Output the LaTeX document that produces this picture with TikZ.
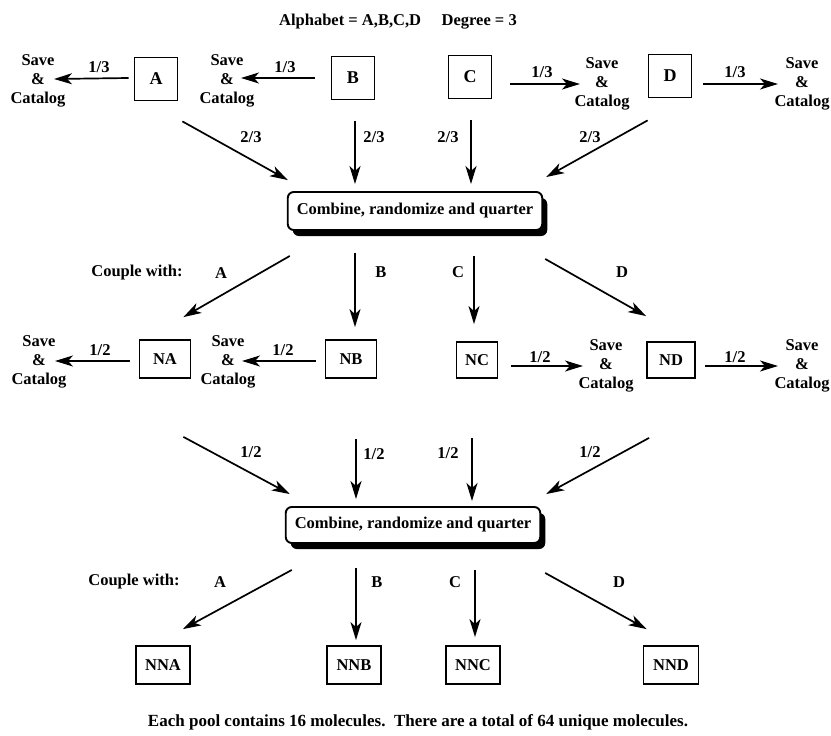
\documentclass[tikz,border=0pt]{standalone}
\usepackage{fontspec}
\setmainfont{Liberation Serif}
\usetikzlibrary{arrows.meta,shadows}
\tikzset{
  pool/.style  = {draw, line width=1.8pt, minimum width=43pt, minimum height=43pt, inner sep=1pt},
  mix/.style   = {draw, line width=1.9pt, fill=white, rounded corners=6pt, minimum height=38pt, inner xsep=9pt,
                  drop shadow={shadow xshift=5pt, shadow yshift=-6pt, fill=black, opacity=1}},
  save/.style  = {align=center, inner sep=0pt},
  lbl/.style   = {inner sep=0pt},
  arr/.style   = {-{Stealth[length=18pt,width=11pt,inset=5pt]}, line width=1.7pt},
}

\begin{document}
\begin{tikzpicture}[x=1pt, y=-1pt, font=\fontsize{16.5}{19}\selectfont\bfseries]
    \useasboundingbox (0,0) rectangle (831,736);

    \node [lbl] (title) at (398,22) {Alphabet = A,B,C,D\quad\ Degree = 3};

    % first round: the four monomers
    \node [pool, font=\fontsize{18}{19}\selectfont\bfseries] (A) at (156,79) {A};
    \node [pool, font=\fontsize{18}{19}\selectfont\bfseries] (B) at (353,78) {B};
    \node [pool, font=\fontsize{18}{19}\selectfont\bfseries] (C) at (470,77) {C};
    \node [pool, font=\fontsize{18}{19}\selectfont\bfseries] (D) at (670,76) {D};
    \node [save] (sv1) at (38,81)  {Save\\\&\\Catalog};
    \node [save] (sv2) at (227,81) {Save\\\&\\Catalog};
    \node [save] (sv3) at (602,84) {Save\\\&\\Catalog};
    \node [save] (sv4) at (802,84) {Save\\\&\\Catalog};

    \draw [arr] ([shift={(-5,-1)}]A.west) -- ([xshift=16pt]A.west -| sv1.center);
    \draw [arr] ([xshift=-16pt]B.west) -- ([xshift=14pt]B.west -| sv2.center);
    \draw [arr] ([shift={(18,7)}]C.east) -- ([shift={(-22,7)}]C.east -| sv3.center);
    \draw [arr] ([shift={(11,8)}]D.east) -- ([shift={(-24,8)}]D.east -| sv4.center);
    \node [lbl] (f1) at (99,67)  {1/3};
    \node [lbl] (f2) at (285,67) {1/3};
    \node [lbl] (f3) at (542,72) {1/3};
    \node [lbl] (f4) at (735,72) {1/3};

    \node [mix] (cmb1) at (415,211) {Combine, randomize and quarter};

    \draw [arr] ([shift={(4,20)}]A.south east) -- ([shift={(1,-11)}]cmb1.north west);
    \draw [arr] ([shift={(2,21)}]B.south) -- ([shift={(2,-7)}]B.south |- cmb1.north);
    \draw [arr] ([shift={(1,21)}]C.south) -- ([shift={(1,-7)}]C.south |- cmb1.north);
    \draw [arr] ([shift={(0,22)}]D.south west) -- ([shift={(3,-14)}]cmb1.north east);
    \node [lbl] (g1) at (251,137) {2/3};
    \node [lbl] (g2) at (374,137) {2/3};
    \node [lbl] (g3) at (448,137) {2/3};
    \node [lbl] (g4) at (590,137) {2/3};

    % second round: dimers
    \node [pool, minimum width=51pt, minimum height=38pt] (NA) at (165,359) {NA};
    \node [pool, minimum width=51pt, minimum height=38pt] (NB) at (351,359) {NB};
    \node [pool, minimum width=41pt, minimum height=36pt] (NC) at (477,360) {NC};
    \node [pool, minimum width=48pt, minimum height=36pt] (ND) at (671,360) {ND};
    \node [save] (sw1) at (39,362)  {Save\\\&\\Catalog};
    \node [save] (sw2) at (228,362) {Save\\\&\\Catalog};
    \node [save] (sw3) at (606,366) {Save\\\&\\Catalog};
    \node [save] (sw4) at (802,366) {Save\\\&\\Catalog};

    \node [lbl] (cw1) at (137,273) {Couple with:};
    \node [lbl] (ca1) at (221,273) {A};
    \node [lbl] (cb1) at (381,272) {B};
    \node [lbl] (cc1) at (458,272) {C};
    \node [lbl] (cd1) at (622,272) {D};
    \draw [arr] ([shift={(3,25)}]cmb1.south west) -- ([shift={(-8,-22)}]NA.north east);
    \draw [arr] ([shift={(4,22)}]NB.north |- cmb1.south) -- ([shift={(4,-12)}]NB.north);
    \draw [arr] ([shift={(-3,25)}]NC.north |- cmb1.south) -- ([shift={(-3,-17)}]NC.north);
    \draw [arr] ([shift={(2,28)}]cmb1.south east) -- ([shift={(0,-25)}]ND.north west);

    \draw [arr] ([shift={(-9,2)}]NA.west) -- ([shift={(16,2)}]NA.west -| sw1.center);
    \draw [arr] ([shift={(-9,2)}]NB.west) -- ([shift={(14,2)}]NB.west -| sw2.center);
    \draw [arr] ([shift={(13,6)}]NC.east) -- ([shift={(-23,6)}]NC.east -| sw3.center);
    \draw [arr] ([shift={(9,6)}]ND.east) -- ([shift={(-24,6)}]ND.east -| sw4.center);
    \node [lbl] (h1) at (100,350) {1/2};
    \node [lbl] (h2) at (283,350) {1/2};
    \node [lbl] (h3) at (540,357) {1/2};
    \node [lbl] (h4) at (735,357) {1/2};

    \node [mix, minimum height=36pt] (cmb2) at (413,525) {Combine, randomize and quarter};

    \draw [arr] ([shift={(-8,58)}]NA.south east) -- ([shift={(5,-12)}]cmb2.north west);
    \draw [arr] ([shift={(5,60)}]NB.south) -- ([shift={(5,-7)}]NB.south |- cmb2.north);
    \draw [arr] ([shift={(-5,59)}]NC.south) -- ([shift={(-5,-5)}]NC.south |- cmb2.north);
    \draw [arr] ([shift={(3,59)}]ND.south west) -- ([shift={(5,-12)}]cmb2.north east);
    \node [lbl] (k1) at (251,452) {1/2};
    \node [lbl] (k2) at (374,454) {1/2};
    \node [lbl] (k3) at (448,453) {1/2};
    \node [lbl] (k4) at (590,452) {1/2};

    % third round: trimers
    \node [pool, minimum width=54pt, minimum height=38pt] (NNA) at (163,665) {NNA};
    \node [pool, minimum width=54pt, minimum height=38pt] (NNB) at (354,665) {NNB};
    \node [pool, minimum width=54pt, minimum height=38pt] (NNC) at (473,665) {NNC};
    \node [pool, minimum width=55pt, minimum height=38pt] (NND) at (671,665) {NND};

    \node [lbl] (cw2) at (134,582) {Couple with:};
    \node [lbl] (ca2) at (220,582) {A};
    \node [lbl] (cb2) at (377,582) {B};
    \node [lbl] (cc2) at (455,582) {C};
    \node [lbl] (cd2) at (619,582) {D};
    \draw [arr] ([shift={(7,26)}]cmb2.south west) -- ([shift={(-8,-16)}]NNA.north east);
    \draw [arr] ([shift={(2,24)}]NNB.north |- cmb2.south) -- ([shift={(2,-5)}]NNB.north);
    \draw [arr] ([shift={(2,26)}]NNC.north |- cmb2.south) -- ([shift={(2,-8)}]NNC.north);
    \draw [arr] ([shift={(4,29)}]cmb2.south east) -- ([shift={(4,-16)}]NND.north west);

    \node [lbl, font=\fontsize{17}{19}\selectfont\bfseries] (note) at (418,722) {Each pool contains 16 molecules.\ \ There are a total of 64 unique molecules.};
\end{tikzpicture}
\end{document}
